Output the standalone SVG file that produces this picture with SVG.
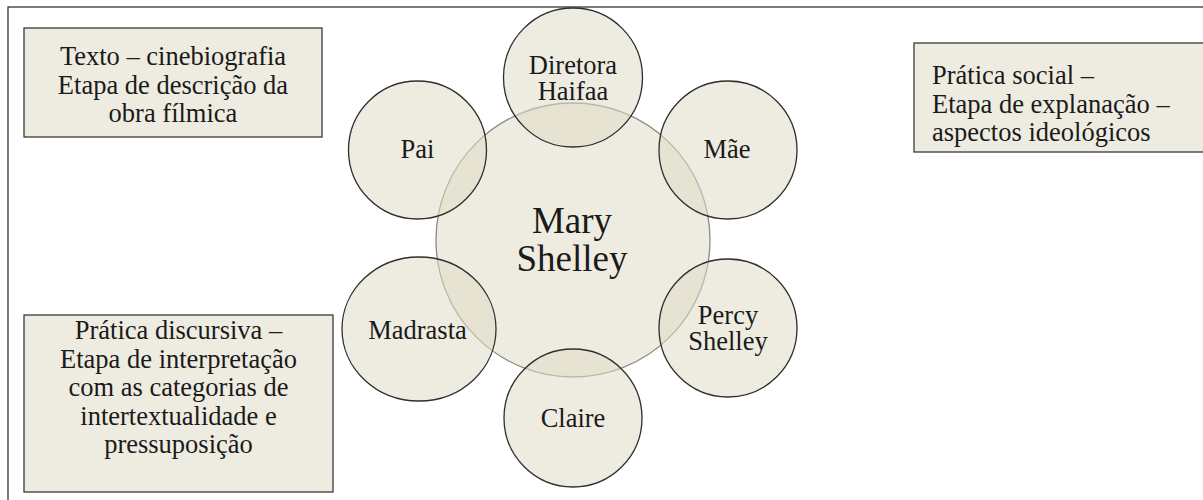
<svg xmlns="http://www.w3.org/2000/svg" width="1203" height="500" viewBox="0 0 1203 500">
<style>
text{font-family:"Liberation Serif","Times New Roman",serif;fill:#1a1a1a;font-size:26.5px}
.c{text-anchor:middle}
.box{fill:#EEECE1;stroke:#3a3a3a;stroke-width:1.3}
.small{fill:#E0DDC9;fill-opacity:0.55;stroke:#2e2e2e;stroke-width:1.3}
.big{fill:#EEECE1;stroke:#8c8b82;stroke-width:1.3}
.big-t{font-size:37px}
</style>
<defs>
<clipPath id="clip2"><rect x="914" y="43" width="300" height="109"/></clipPath>
</defs>
<rect width="1203" height="500" fill="#ffffff"/>
<rect id="frame" x="8" y="7" width="1210" height="510" fill="none" stroke="#333" stroke-width="1.3"/>
<g id="connectors"/>
<g id="box-texto">
<rect class="box" x="24" y="28" width="298" height="109"/>
<text class="c" x="173" y="65">Texto – cinebiografia</text>
<text class="c" x="173" y="93.5">Etapa de descrição da</text>
<text class="c" x="173" y="122">obra fílmica</text>
</g>
<g id="box-social">
<rect class="box" x="914" y="43" width="300" height="109"/>
<g clip-path="url(#clip2)">
<text x="932" y="84">Prática social –</text>
<text x="932" y="112.5">Etapa de explanação –</text>
<text x="932" y="141">aspectos ideológicos</text>
</g>
</g>
<g id="box-discursiva">
<rect class="box" x="24" y="315" width="309" height="177"/>
<text class="c" x="178.5" y="339">Prática discursiva –</text>
<text class="c" x="178.5" y="367.5">Etapa de interpretação</text>
<text class="c" x="178.5" y="396">com as categorias de</text>
<text class="c" x="178.5" y="424.5">intertextualidade e</text>
<text class="c" x="178.5" y="453">pressuposição</text>
</g>
<g id="mary">
<circle class="big" cx="573" cy="240" r="137"/>
<text class="c big-t" x="572" y="233">Mary</text>
<text class="c big-t" x="572" y="271">Shelley</text>
</g>
<g id="diretora">
<circle class="small" cx="573" cy="77.5" r="69.5"/>
<text class="c" x="573" y="74">Diretora</text>
<text class="c" x="573" y="100">Haifaa</text>
</g>
<g id="pai">
<circle class="small" cx="417.5" cy="150" r="69"/>
<text class="c" x="417.5" y="158">Pai</text>
</g>
<g id="mae">
<circle class="small" cx="728" cy="150" r="69"/>
<text class="c" x="727" y="158">Mãe</text>
</g>
<g id="madrasta">
<ellipse class="small" cx="419" cy="329" rx="77" ry="72"/>
<text class="c" x="417.5" y="339">Madrasta</text>
</g>
<g id="percy">
<circle class="small" cx="728" cy="328" r="69"/>
<text class="c" x="728" y="324">Percy</text>
<text class="c" x="728" y="350">Shelley</text>
</g>
<g id="claire">
<circle class="small" cx="573" cy="418" r="69"/>
<text class="c" x="573" y="427">Claire</text>
</g>
</svg>
